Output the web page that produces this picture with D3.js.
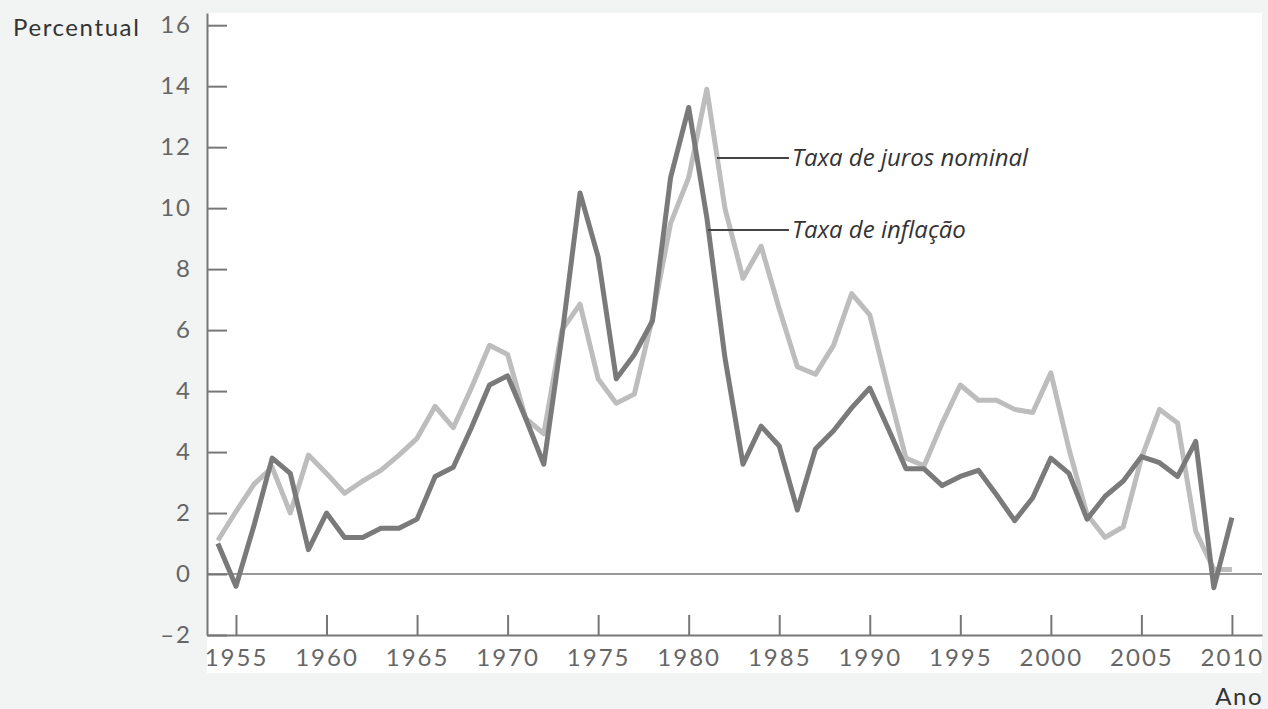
<!DOCTYPE html>
<meta charset="utf-8">
<script src="https://d3js.org/d3.v7.min.js"></script>
<style>
  body { margin: 0; background: #f2f3f3; }
  .tick text { font-family: Lato, "Open Sans", sans-serif; }
</style>
<div id="chart"></div>
<script>

// years and the two series (in grid units)
const years = d3.range(1954, 2011);
const inflacao = [1.0, -0.4, 1.6, 3.8, 3.3, 0.8, 2.0, 1.2, 1.2, 1.5,
  1.5, 1.8, 3.2, 3.5, 4.8, 6.2, 6.5, 5.1, 3.6, 7.8,
  12.5, 10.4, 6.4, 7.2, 8.3, 13.0, 15.3, 11.7, 7.1, 3.6,
  4.85, 4.2, 2.1, 4.1, 4.7, 5.45, 6.1, 4.8, 3.45, 3.45,
  2.9, 3.2, 3.4, 2.6, 1.75, 2.5, 3.8, 3.3, 1.8, 2.55,
  3.05, 3.85, 3.65, 3.2, 4.35, -0.45, 1.85];
const juros = [1.1, 2.05, 2.95, 3.5, 2.0, 3.9, 3.3, 2.65, 3.05, 3.4,
  3.9, 4.45, 5.5, 4.8, 6.1, 7.5, 7.2, 5.1, 4.6, 8.0,
  8.85, 6.4, 5.6, 5.9, 8.4, 11.5, 13.0, 15.9, 12.0, 9.7,
  10.75, 8.7, 6.8, 6.55, 7.5, 9.2, 8.5, 6.1, 3.8, 3.55,
  4.95, 6.2, 5.7, 5.7, 5.4, 5.3, 6.6, 4.1, 1.95, 1.2,
  1.55, 3.8, 5.4, 4.95, 1.4, 0.15, 0.15];

// tick values and the labels printed next to them
const yTickValues = d3.range(-2, 19, 2);
const yTickLabels = ["\u20132", "0", "2", "4", "4", "6", "8", "10", "12", "14", "16"];
const xTickValues = d3.range(1955, 2011, 5);

const W = 1268, H = 709;
const margin = {left: 207, right: 1262, top: 13, bottom: 635};

const svg = d3.select("#chart").append("svg")
  .attr("width", W)
  .attr("height", H);

// white plotting panel
svg.append("rect")
  .attr("x", margin.left).attr("y", margin.top)
  .attr("width", margin.right - margin.left).attr("height", 673 - margin.top)
  .attr("fill", "#fff");

const x = d3.scaleLinear()
  .domain([1953.4, 2011.66])
  .range([margin.left, margin.right]);

const y = d3.scaleLinear()
  .domain([-2, 18.4])
  .range([margin.bottom, margin.top]);

// zero line
svg.append("line")
  .attr("x1", margin.left).attr("x2", margin.right)
  .attr("y1", y(0)).attr("y2", y(0))
  .attr("stroke", "#999")
  .attr("stroke-width", 2);

// x axis
const xAxis = svg.append("g")
  .attr("transform", `translate(0,${margin.bottom})`)
  .call(d3.axisBottom(x)
    .tickValues(xTickValues)
    .tickFormat(d3.format("d"))
    .tickSize(-20)
    .tickSizeOuter(0)
    .tickPadding(14));

// y axis
const yAxis = svg.append("g")
  .attr("transform", `translate(${margin.left},0)`)
  .call(d3.axisLeft(y)
    .tickValues(yTickValues)
    .tickFormat((d, i) => yTickLabels[i])
    .tickSize(-20)
    .tickSizeOuter(0)
    .tickPadding(15));

[xAxis, yAxis].forEach(g => {
  g.select(".domain").attr("stroke", "#777").attr("stroke-width", 2);
  g.selectAll(".tick line").attr("stroke", "#777").attr("stroke-width", 2);
  g.selectAll(".tick text")
    .attr("fill", "#666")
    .style("font-size", "24px")
    .style("letter-spacing", "2px");
});

const line = d3.line()
  .x((d, i) => x(years[i]))
  .y(d => y(d));

svg.append("path")
  .datum(juros)
  .attr("fill", "none")
  .attr("stroke", "#bdbdbd")
  .attr("stroke-width", 5)
  .attr("stroke-linejoin", "round")
  .attr("d", line);

svg.append("path")
  .datum(inflacao)
  .attr("fill", "none")
  .attr("stroke", "#7a7a7a")
  .attr("stroke-width", 5)
  .attr("stroke-linejoin", "round")
  .attr("d", line);

// series labels with leader lines
const labels = [
  {text: "Taxa de juros nominal", x0: 717, y: 158},
  {text: "Taxa de inflação", x0: 708, y: 230}
];
labels.forEach(l => {
  svg.append("line")
    .attr("x1", l.x0).attr("x2", 789)
    .attr("y1", l.y).attr("y2", l.y)
    .attr("stroke", "#444")
    .attr("stroke-width", 2);
  svg.append("text")
    .attr("x", 792)
    .attr("y", l.y + 8)
    .attr("font-family", "'Open Sans', sans-serif")
    .attr("font-style", "italic")
    .attr("font-size", 24)
    .attr("fill", "#333")
    .text(l.text);
});

// axis titles
svg.append("text")
  .attr("x", 13).attr("y", 36)
  .attr("font-family", "Lato, sans-serif")
  .attr("font-size", 24)
  .attr("letter-spacing", "1.6px")
  .attr("fill", "#333")
  .text("Percentual");

svg.append("text")
  .attr("x", 1263).attr("y", 705)
  .attr("text-anchor", "end")
  .attr("font-family", "Lato, sans-serif")
  .attr("font-size", 24)
  .attr("letter-spacing", "1.5px")
  .attr("fill", "#333")
  .text("Ano");

</script>
